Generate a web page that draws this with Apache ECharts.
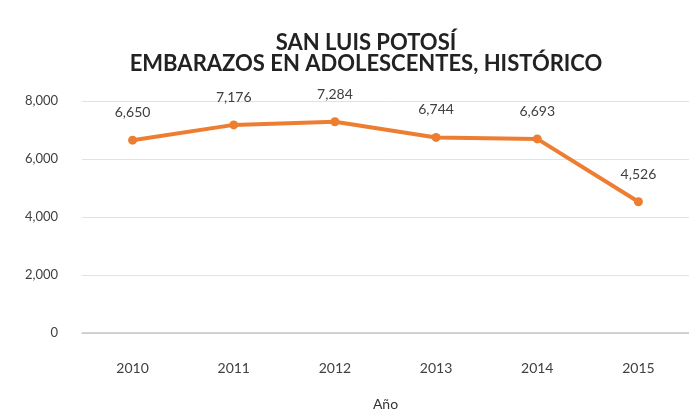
<!DOCTYPE html>
<html>
<head>
<meta charset="utf-8">
<script src="https://cdn.jsdelivr.net/npm/echarts@6/dist/echarts.min.js"></script>
<style>
  html, body { margin: 0; padding: 0; background: #fff; }
  #main { width: 689px; height: 416px; }
</style>
</head>
<body>
<div id="main"></div>
<script>
var years = ['2010', '2011', '2012', '2013', '2014', '2015'];
var embarazos = [6650, 7176, 7284, 6744, 6693, 4526];
var titleLines = ['SAN LUIS POTOSÍ', 'EMBARAZOS EN ADOLESCENTES, HISTÓRICO'];

var myChart = echarts.init(document.getElementById('main'));
var fmt = function (v) { return v.toLocaleString('en-US'); };

var option = {
    animation: false,
    title: {
        text: titleLines.join('\n'),
        left: 361,
        textAlign: 'center',
        top: 27,
        textStyle: {
            fontFamily: 'Lato',
            fontSize: 22,
            fontWeight: 'bold',
            color: '#222',
            lineHeight: 21
        }
    },
    grid: { left: 82, right: 0, top: 101, bottom: 74 },
    xAxis: {
        type: 'category',
        data: years,
        name: 'Año',
        nameLocation: 'middle',
        nameGap: 64,
        nameTextStyle: { fontFamily: 'Lato', fontSize: 14, color: '#333' },
        axisLine: { lineStyle: { color: '#c8c8c8', width: 1.5 } },
        axisTick: { show: false },
        axisLabel: { margin: 28, fontFamily: 'Lato', fontSize: 14, color: '#404040' }
    },
    yAxis: {
        type: 'value',
        min: 0,
        max: 8000,
        interval: 2000,
        axisLine: { show: false },
        axisTick: { show: false },
        splitLine: { lineStyle: { color: '#e2e2e2', width: 1 } },
        axisLabel: { margin: 24, fontFamily: 'Lato', fontSize: 13, color: '#404040', formatter: fmt }
    },
    series: [{
        name: 'Embarazos',
        type: 'line',
        data: embarazos,
        symbol: 'circle',
        symbolSize: 9,
        lineStyle: { color: '#ED7D31', width: 4 },
        itemStyle: { color: '#ED7D31' },
        label: {
            show: true,
            position: 'top',
            distance: 16,
            fontFamily: 'Lato',
            fontSize: 14,
            color: '#404040',
            formatter: function (p) { return fmt(p.value); }
        }
    }]
};
myChart.setOption(option);
</script>
</body>
</html>
